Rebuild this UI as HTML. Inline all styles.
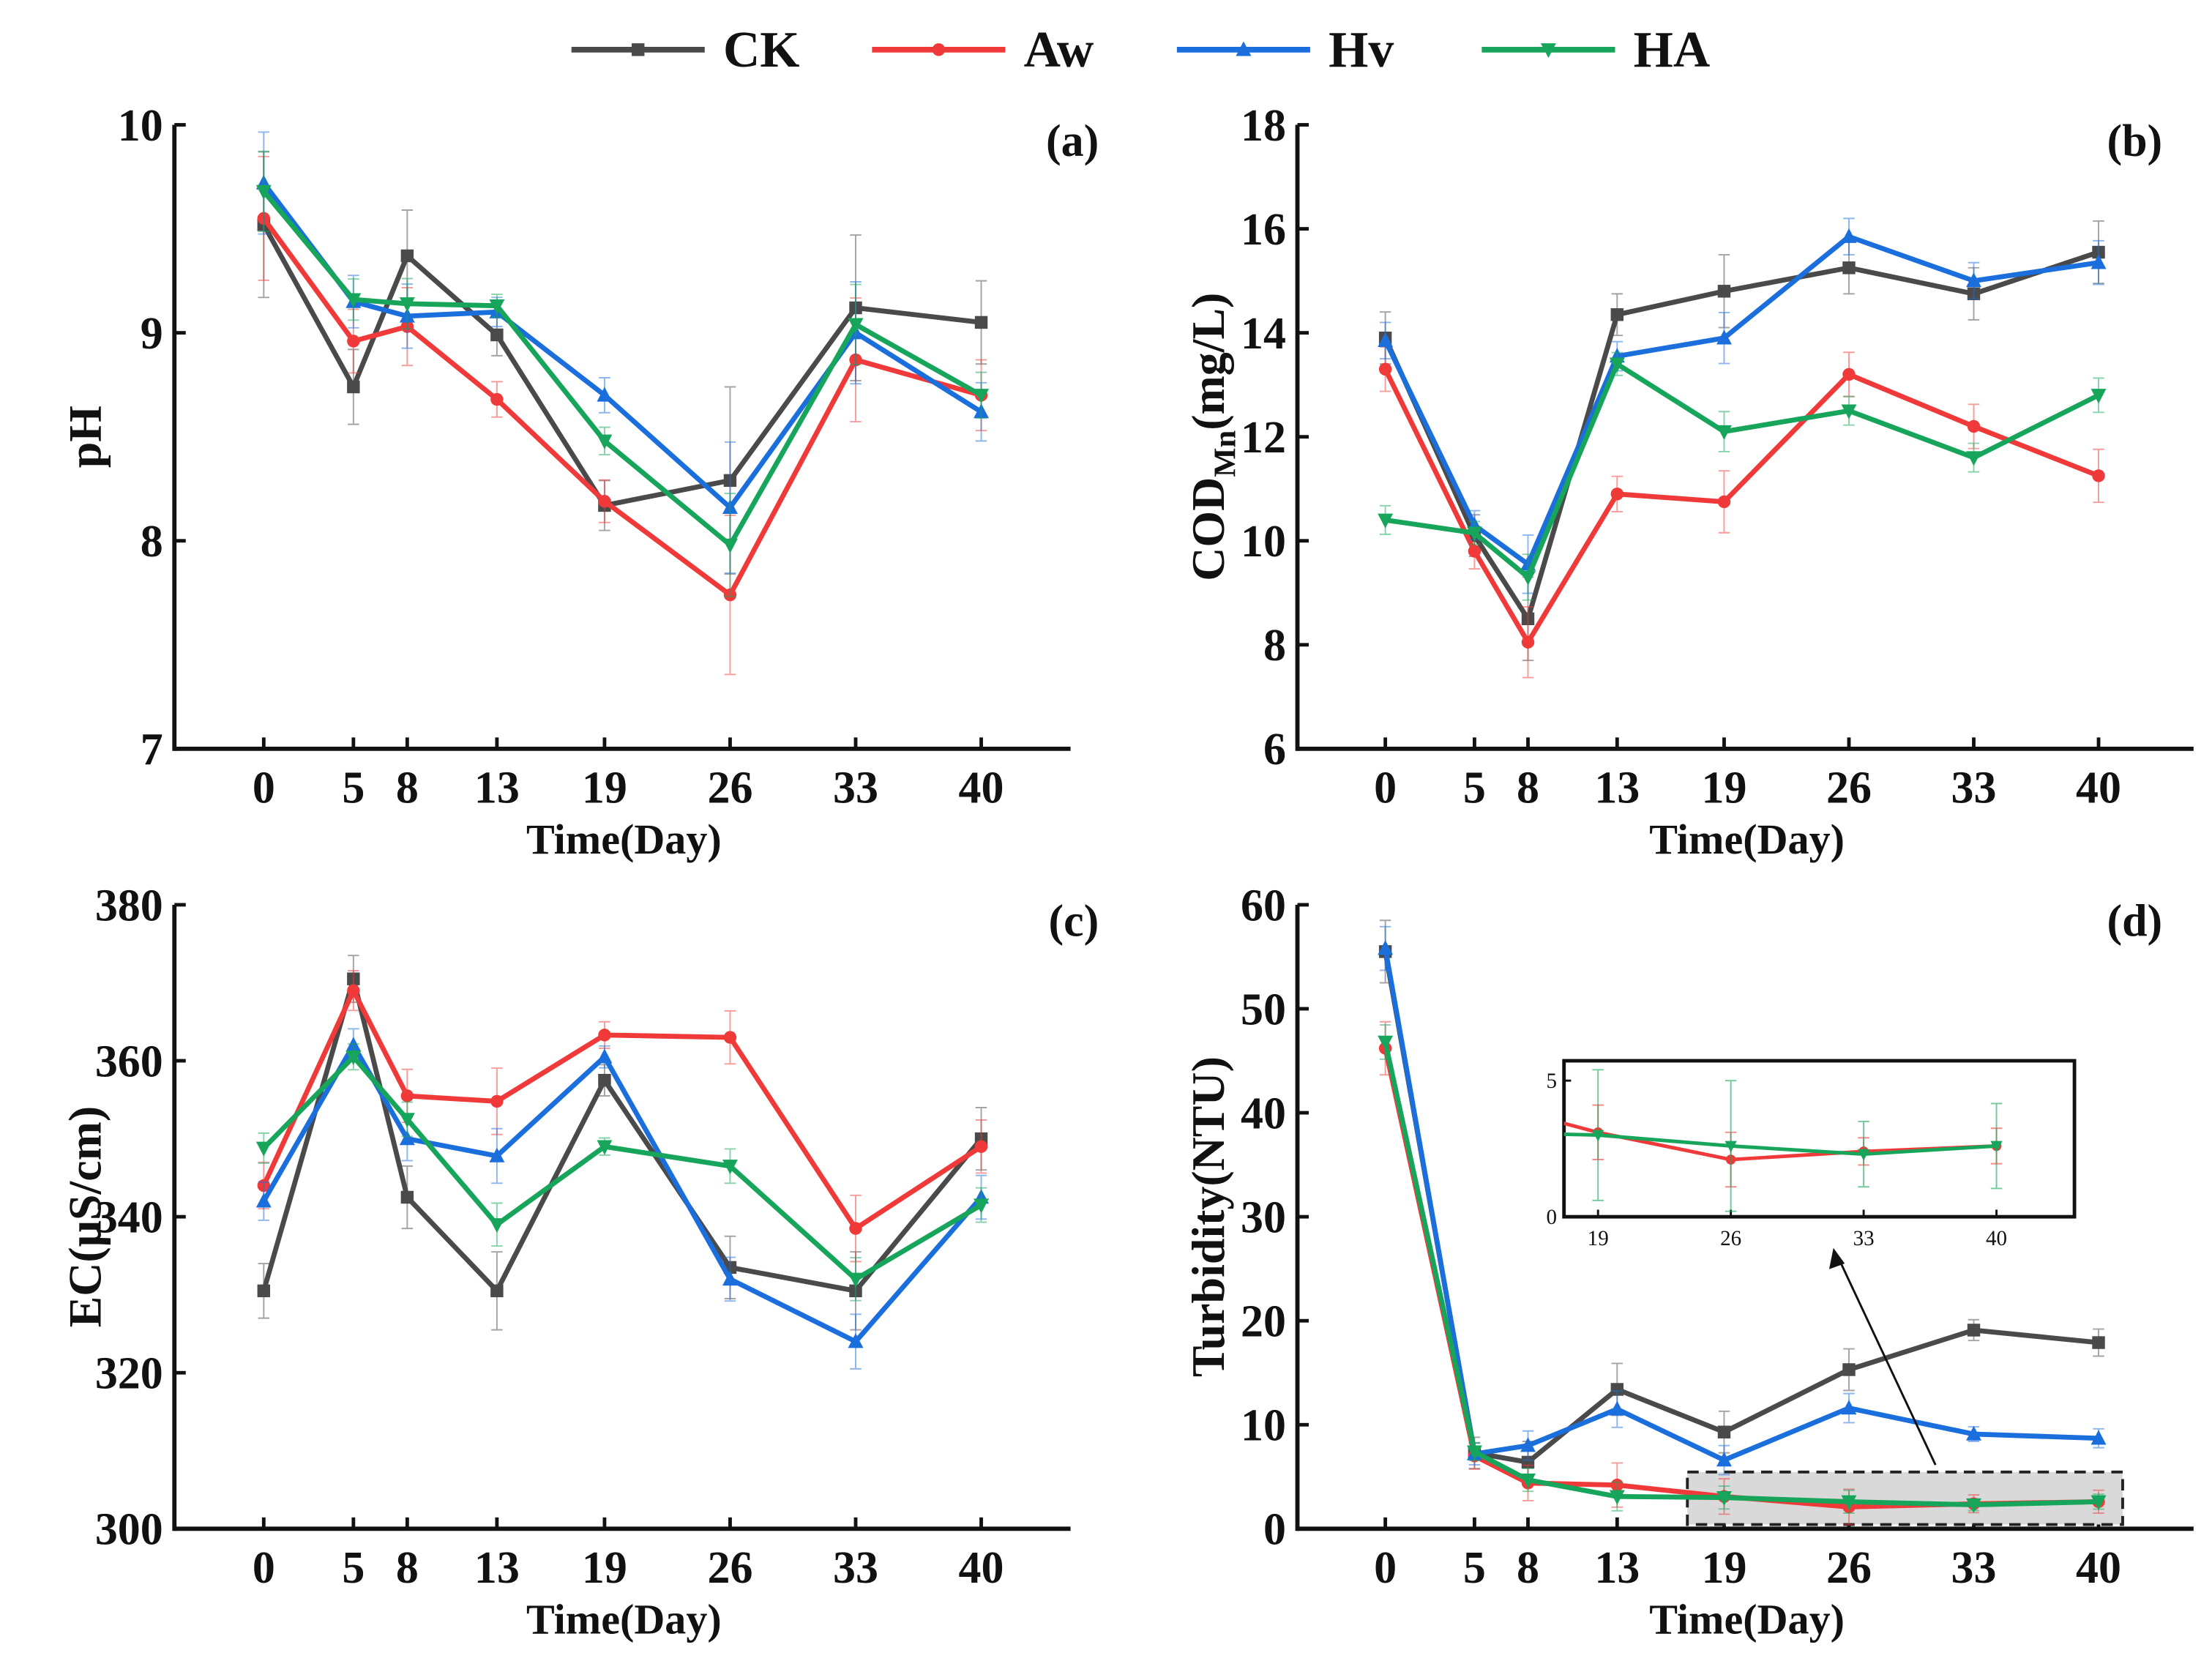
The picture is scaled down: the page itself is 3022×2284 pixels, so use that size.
<!DOCTYPE html>
<html><head><meta charset="utf-8">
<style>
html,body{margin:0;padding:0;background:#fff;}
svg{display:block;}
text{font-family:"Liberation Serif",serif;font-weight:bold;fill:#111;}
</style></head>
<body>
<svg id="chart" width="3022" height="2284" viewBox="0 0 1560 1179" xmlns="http://www.w3.org/2000/svg"></svg>
<script>
const days = [0,5,8,13,19,26,33,40];
const seriesNames = ["CK","Aw","Hv","HA"];
const seriesColors = ["#4a4a4a","#f03a3a","#1a6fdc","#16a55a"];
const phCK = [9.52,8.74,9.37,8.99,8.17,8.29,9.12,9.05];
const phAw = [9.55,8.96,9.03,8.68,8.19,7.74,8.87,8.70];
const phHv = [9.72,9.15,9.08,9.10,8.70,8.16,9.00,8.62];
const phHA = [9.68,9.16,9.14,9.13,8.48,7.98,9.04,8.70];
const phErr = [0.35,0.18,0.22,0.1,0.12,0.45,0.35,0.2];
const codCK = [13.9,10.1,8.5,14.35,14.8,15.25,14.75,15.55];
const codAw = [13.3,9.8,8.05,10.9,10.75,13.2,12.2,11.25];
const codHv = [13.85,10.3,9.55,13.55,13.9,15.85,15.0,15.35];
const codHA = [10.4,10.15,9.3,13.4,12.1,12.5,11.6,12.8];
const codErr = [0.5,0.4,0.8,0.4,0.7,0.5,0.5,0.6];
const ecCK = [330.5,370.5,342.5,330.5,357.5,333.5,330.5,350];
const ecAw = [344,369,355.5,354.8,363.3,363,338.5,349];
const ecHv = [342,362,350,347.8,360.5,332,324,342.5];
const ecHA = [348.8,360.5,352.5,339,349,346.5,332,341.5];
const ecErr = [3.5,3,4,5,2,4,5,4];
const tuCK = [55.5,7.3,6.4,13.4,9.3,15.3,19.1,17.9];
const tuAw = [46.2,7.0,4.4,4.2,3.1,2.1,2.4,2.6];
const tuHv = [55.8,7.2,8.0,11.5,6.6,11.6,9.1,8.7];
const tuHA = [46.8,7.4,4.7,3.1,3.0,2.6,2.3,2.6];
const tuErr = [3,1.5,2,2.5,2,2,1,1.3];
const phTicks = [7,8,9,10];
const codTicks = [6,8,10,12,14,16,18];
const ecTicks = [300,320,340,360,380];
const tuTicks = [0,10,20,30,40,50,60];
const insetTicks = [0,5];
const insetDays = [19,26,33,40];

const svg = document.getElementById('chart');
const NS = "http://www.w3.org/2000/svg";
function el(tag, attrs, parent){const e=document.createElementNS(NS,tag);for(const k in attrs)e.setAttribute(k,attrs[k]);(parent||svg).appendChild(e);return e;}
function txt(s, attrs, parent){const t=el('text',attrs,parent);t.textContent=s;return t;}

function marker(g,i,x,y,c,s){
  let m;
  if(i===0) m=el('rect',{x:x-s,y:y-s,width:2*s,height:2*s,fill:c},g);
  else if(i===1) m=el('circle',{cx:x,cy:y,r:s,fill:c},g);
  else if(i===2) m=el('polygon',{points:`${x},${y-s*1.3} ${x-s*1.2},${y+s} ${x+s*1.2},${y+s}`,fill:c},g);
  else m=el('polygon',{points:`${x},${y+s*1.3} ${x-s*1.2},${y-s} ${x+s*1.2},${y-s}`,fill:c},g);
  
  
}

const legX=[403,615,830,1045];
seriesNames.forEach((n,i)=>{
  const g=el('g',{});
  
  
  el('line',{x1:legX[i],y1:35,x2:legX[i]+94,y2:35,stroke:seriesColors[i],'stroke-width':4},g);
  marker(g,i,legX[i]+47,35,seriesColors[i],4.5);
  txt(n,{x:legX[i]+107,y:47,'font-size':36},g);
});

function panel(o){
  const g=el('g',{});
  
  
  const X=d=>o.x0+(d-0)*(o.x40-o.x0)/40;
  const Y=v=>o.yb+(v-o.vmin)*(o.yt-o.yb)/(o.vmax-o.vmin);
  el('line',{x1:o.ax,y1:o.yt,x2:o.ax,y2:o.yb+1.5,stroke:'#111','stroke-width':3},g);
  el('line',{x1:o.ax,y1:o.yb,x2:o.ax+632,y2:o.yb,stroke:'#111','stroke-width':3},g);
  o.ticks.forEach(t=>{
    el('line',{x1:o.ax,y1:Y(t),x2:o.ax+8,y2:Y(t),stroke:'#111','stroke-width':2.5},g);
    const l=txt(String(t),{x:o.ax-8,y:Y(t)+11,'font-size':32,'text-anchor':'end'},g);
    
    
  });
  days.forEach(d=>{
    el('line',{x1:X(d),y1:o.yb,x2:X(d),y2:o.yb-8,stroke:'#111','stroke-width':2.5},g);
    const l=txt(String(d),{x:X(d),y:o.yb+38,'font-size':32,'text-anchor':'middle'},g);
    
    
  });
  const xt=txt('Time(Day)',{x:o.ax+317,y:o.yb+74,'font-size':30,'text-anchor':'middle'},g);
  
  
  const yt=el('text',{transform:`translate(${o.ax-52},${(o.yt+o.yb)/2}) rotate(-90)`,'font-size':33,'text-anchor':'middle'},g);
  
  
  yt.innerHTML=o.ylab;
  const pl=txt(o.label,{x:o.lx,y:o.yt+22,'font-size':32,'text-anchor':'end'},g);
  
  
  if(o.extra) o.extra(g,X,Y);
  o.data.forEach((arr,i)=>{
    const c=seriesColors[i];
    const sg=el('g',{},g);
    
    
    arr.forEach((v,k)=>{
      const e=o.err[k]*(1-0.15*i), x=X(days[k]);
      el('path',{d:`M${x},${Y(v-e)}V${Y(v+e)}M${x-4},${Y(v-e)}h8M${x-4},${Y(v+e)}h8`,stroke:c,'stroke-width':1,opacity:0.5,fill:'none'},sg);
    });
    el('polyline',{points:arr.map((v,k)=>X(days[k])+','+Y(v)).join(' '),fill:'none',stroke:c,'stroke-width':3.5,'stroke-linejoin':'round'},sg);
    arr.forEach((v,k)=>marker(sg,i,X(days[k]),Y(v),c,4.5));
  });
  if(o.after) o.after(g,X,Y);
}

panel({id:'a',ax:123,yt:88,yb:528,vmin:7,vmax:10,x0:186,x40:692,lx:775,ticks:phTicks,data:[phCK,phAw,phHv,phHA],err:phErr,ylab:'pH',label:'(a)'});
panel({id:'b',ax:915,yt:88,yb:528,vmin:6,vmax:18,x0:977,x40:1480,lx:1525,ticks:codTicks,data:[codCK,codAw,codHv,codHA],err:codErr,ylab:'COD<tspan font-size="22" dy="8">Mn</tspan><tspan dy="-8">(mg/L)</tspan>',label:'(b)'});
panel({id:'c',ax:123,yt:638,yb:1078,vmin:300,vmax:380,x0:186,x40:692,lx:775,ticks:ecTicks,data:[ecCK,ecAw,ecHv,ecHA],err:ecErr,ylab:'EC(μS/cm)',label:'(c)'});
panel({id:'d',ax:915,yt:638,yb:1078,vmin:0,vmax:60,x0:977,x40:1480,lx:1525,ticks:tuTicks,data:[tuCK,tuAw,tuHv,tuHA],err:tuErr,ylab:'Turbidity(NTU)',label:'(d)',
 extra:(g,X,Y)=>{
   const r=el('rect',{x:1190,y:1038,width:307,height:37,fill:'#d9d9d9',stroke:'#222','stroke-width':2,'stroke-dasharray':'8,5'},g);
   
   
 },
 after:(g,X,Y)=>{
   const a=el('line',{x1:1365,y1:1033,x2:1297,y2:888,stroke:'#111','stroke-width':1.5},g);
   
   
   el('polygon',{points:'1293,880 1290,895 1301,891',fill:'#111'},g);
   const ig=el('g',{},g);
   
   
   const L=1103,R=1463,T=748,B=858;
   el('rect',{x:L,y:T,width:R-L,height:B-T,fill:'#fff',stroke:'#111','stroke-width':2.5},ig);
   const IX=d=>1127+(d-19)*(1408-1127)/21;
   const IY=v=>B+(v-0)*(762-B)/5;
   el('clipPath',{id:'ic'},ig).appendChild((()=>{const c=document.createElementNS(NS,'rect');c.setAttribute('x',L);c.setAttribute('y',T);c.setAttribute('width',R-L);c.setAttribute('height',B-T);return c;})());
   insetTicks.forEach(t=>{
     el('line',{x1:L,y1:IY(t),x2:L+5,y2:IY(t),stroke:'#111','stroke-width':1.5},ig);
     txt(String(t),{x:L-5,y:IY(t)+5,'font-size':15,'text-anchor':'end',style:'font-weight:normal'},ig);
   });
   insetDays.forEach(d=>{
     el('line',{x1:IX(d),y1:B,x2:IX(d),y2:B-5,stroke:'#111','stroke-width':1.5},ig);
     txt(String(d),{x:IX(d),y:B+20,'font-size':15,'text-anchor':'middle',style:'font-weight:normal'},ig);
   });
   const cg=el('g',{'clip-path':'url(#ic)'},ig);
   [[tuAw,1],[tuHA,3]].forEach(([arr,i])=>{
     const c=seriesColors[i];
     arr.forEach((v,k)=>{ if(days[k]<19) return; const e=tuErr[k]*(i===3?1.2:0.5),x=IX(days[k]);
       el('path',{d:`M${x},${IY(v-e)}V${IY(v+e)}M${x-4},${IY(v-e)}h8M${x-4},${IY(v+e)}h8`,stroke:c,'stroke-width':1,opacity:0.6,fill:'none'},cg);});
     el('polyline',{points:arr.map((v,k)=>IX(days[k])+','+IY(v)).join(' '),fill:'none',stroke:c,'stroke-width':2.5},cg);
     arr.forEach((v,k)=>{ if(days[k]>=19) marker(cg,i,IX(days[k]),IY(v),c,3.5);});
   });
 }});
</script>
</body></html>
